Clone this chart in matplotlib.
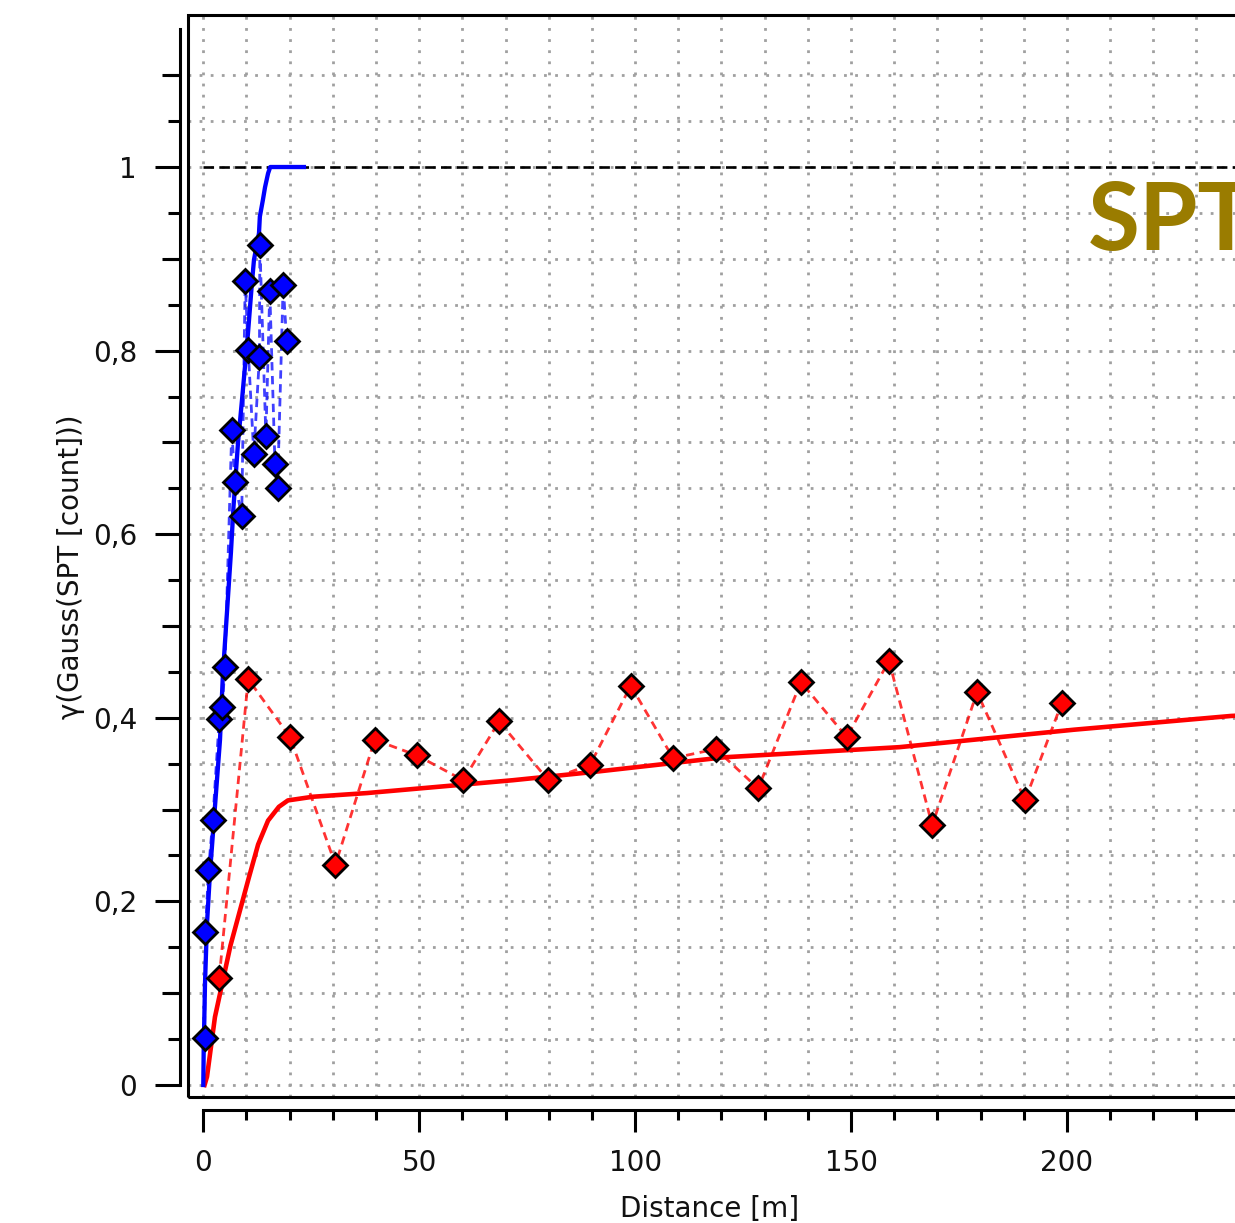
import numpy as np
import matplotlib.pyplot as plt
from matplotlib.patches import Rectangle
from matplotlib.ticker import FixedLocator, FixedFormatter, MultipleLocator

# experimental variogram, short lags (blue)
blue_lag = [0.3, 0.5, 1.2, 2.2, 3.7, 4.4, 5.0, 6.6, 7.3, 8.9, 9.7, 10.4,
            11.7, 13.0, 13.1, 14.5, 15.4, 16.6, 17.2, 18.5, 19.3]
blue_gamma = [0.051, 0.167, 0.234, 0.289, 0.399, 0.412, 0.455, 0.714, 0.657,
              0.620, 0.876, 0.801, 0.687, 0.793, 0.915, 0.707, 0.865, 0.677,
              0.650, 0.872, 0.811]

# fitted model, blue
blue_model_lag = [0.0, 0.1, 0.4, 0.86, 1.55, 2.7, 3.87, 4.56, 6.4, 7.0, 8.03,
                  8.96, 10.35, 11.27, 11.74, 12.9, 13.1, 13.8, 14.3, 15.0,
                  15.5, 23.3]
blue_model_gamma = [0.0, 0.04, 0.111, 0.176, 0.231, 0.303, 0.376, 0.449, 0.58,
                    0.63, 0.699, 0.746, 0.819, 0.874, 0.899, 0.928, 0.946,
                    0.964, 0.978, 0.993, 1.0, 1.0]

# experimental variogram, long lags (red)
red_lag = [3.7, 10.4, 20.1, 30.6, 39.7, 49.5, 60.2, 68.5, 79.9, 89.6, 99.0,
           108.8, 118.7, 128.5, 138.4, 149.0, 158.8, 168.8, 179.2, 190.3, 198.8]
red_gamma = [0.117, 0.442, 0.379, 0.240, 0.376, 0.359, 0.332, 0.396, 0.332,
             0.349, 0.435, 0.356, 0.366, 0.323, 0.439, 0.379, 0.462, 0.283,
             0.428, 0.310, 0.416]

# fitted model, red
red_model_lag = [0.3, 0.86, 2.7, 6.3, 10.5, 12.7, 15.0, 17.5, 19.6, 25.4, 37.9,
                 54.8, 71.7, 90.4, 120.7, 161.2, 201.6, 238.0, 242.4]
red_model_gamma = [0.0, 0.009, 0.074, 0.152, 0.225, 0.262, 0.288, 0.303, 0.310,
                   0.314, 0.318, 0.325, 0.332, 0.341, 0.357, 0.368, 0.387,
                   0.402, 0.403]

sill = 1.0

ytick_vals = [0, 0.2, 0.4, 0.6, 0.8, 1.0]
ytick_labels = ['0', '0,2', '0,4', '0,6', '0,8', '1']
ymid_vals = [0.1, 0.3, 0.5, 0.7, 0.9, 1.1]
ymin_vals = list(np.arange(1, 23) * 0.05)
xtick_vals = [0, 50, 100, 150, 200, 250]
xtick_labels = ['0', '50', '100', '150', '200', '250']

xmax = 242.4
txt = '#111111'

fig = plt.figure(figsize=(12.35, 12.23), dpi=100)
ax = fig.add_axes([188 / 1235, (1223 - 1097) / 1223, (1250 - 188) / 1235, (1097 - 15) / 1223])
ax.set_xlim(-3.54, xmax)
ax.set_ylim(-0.0131, 1.1656)

# frame around plot area
ax.add_patch(Rectangle((0, 0), 1, 1, transform=ax.transAxes, fill=False,
                       ec='black', lw=2.2, clip_on=False, zorder=6))

# detached axes
for s in ['top', 'right']:
    ax.spines[s].set_visible(False)
ax.spines['left'].set_position(('outward', 5.76))
ax.spines['left'].set_bounds(0, 1.15)
ax.spines['bottom'].set_position(('outward', 9.36))
ax.spines['bottom'].set_bounds(0, xmax)
ax.spines['left'].set_linewidth(2.2)
ax.spines['bottom'].set_linewidth(2.2)

ax.yaxis.set_major_locator(FixedLocator(ytick_vals))
ax.yaxis.set_major_formatter(FixedFormatter(ytick_labels))
ax.yaxis.set_minor_locator(FixedLocator(ymin_vals))
ax.xaxis.set_major_locator(FixedLocator(xtick_vals))
ax.xaxis.set_major_formatter(FixedFormatter(xtick_labels))
ax.xaxis.set_minor_locator(MultipleLocator(10))

ax.tick_params(axis='y', which='major', length=18, width=2.2, pad=13,
               labelsize=20, labelcolor=txt)
ax.tick_params(axis='y', which='minor', length=9, width=2.2)
ax.tick_params(axis='x', which='major', length=16, width=2.2, pad=12,
               labelsize=20, labelcolor=txt)
ax.tick_params(axis='x', which='minor', length=7, width=2.2)

sec = ax.secondary_yaxis(-8 / 1062)
sec.set_yticks(ymid_vals)
sec.tick_params(length=13, width=2.2, labelleft=False)
sec.spines['left'].set_visible(False)

ax.grid(which='both', color='#a0a0a0', linestyle=(0, (1, 3)), linewidth=2.0)
ax.set_axisbelow(True)

ax.hlines(sill, 0, xmax, colors='black', linestyles=(0, (4, 2)), lw=1.9, zorder=2)

ax.plot(red_lag, red_gamma, color='#ff0000', alpha=0.8, lw=2.0,
        ls=(0, (3, 2)), zorder=2.5)
ax.plot(blue_lag, blue_gamma, color='#0000ff', alpha=0.75, lw=2.0,
        ls=(0, (3, 2)), zorder=2.5)
ax.plot(red_model_lag, red_model_gamma, color='#ff0000', lw=3.3, zorder=3)
ax.plot(blue_model_lag, blue_model_gamma, color='#0000ff', lw=3.1, zorder=3)
ax.plot(red_lag, red_gamma, 'D', ms=12.5, mfc='#ff0000', mec='black', mew=2.0, zorder=4)
ax.plot(blue_lag, blue_gamma, 'D', ms=12.5, mfc='#0000ff', mec='black', mew=2.0, zorder=4)

ax.text(204.8, 0.9096, 'SPT', fontsize=68, fontweight='bold', family='Lato',
        color='#9a7c00', ha='left', va='baseline', clip_on=False, zorder=5)

ax.set_xlabel('Distance [m]', fontsize=20, color=txt)
ax.xaxis.set_label_coords(0.4915, -0.091)
ax.set_ylabel('γ(Gauss(SPT [count]))', fontsize=20, color=txt)
ax.yaxis.set_label_coords(-0.097, 0.4898)

fig.savefig('out.png', dpi=100)
